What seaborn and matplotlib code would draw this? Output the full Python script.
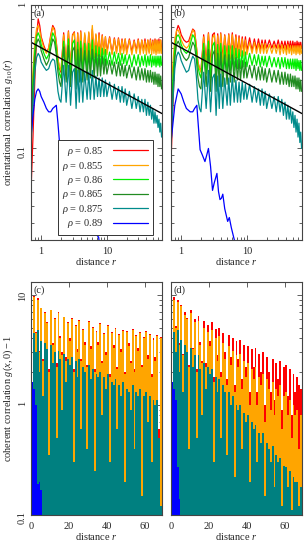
import numpy as np
import pandas as pd
import matplotlib
matplotlib.use("Agg")
import matplotlib.pyplot as plt
import seaborn as sns
from matplotlib.ticker import LogLocator, NullFormatter, FuncFormatter, FixedLocator

# ── 1. Data ────────────────────────────────────────────────────────────
densities = ["0.85", "0.855", "0.86", "0.865", "0.875", "0.89"]
colors = ["#ff0000", "#ffa500", "#00ee00", "#228b22", "#008b8b", "#0000ff"]

r_top = [0.7, 0.75, 0.8, 0.85, 0.9, 0.95, 1.0,
         1.1, 1.2, 1.3, 1.4, 1.5, 1.6, 1.7, 1.8, 1.9, 2.0,
         2.2, 2.4, 2.6, 2.8, 3.0, 3.2, 3.4, 3.6, 3.8, 4.0,
         4.3, 4.6, 5.0, 5.3, 5.6, 6.0, 6.4, 6.8, 7.2, 7.6, 8.0, 8.5, 9.0, 9.5, 10,
         11, 12, 13, 14, 15, 16, 17, 18, 19, 20,
         22, 24, 26, 28, 30, 32, 34, 36, 38, 40, 42, 44,
         46, 48, 50, 52, 54, 56, 58, 60, 62, 64, 66, 68]

# panel (a)
g_a_085 = [0.05, 0.12, 0.30, 0.60, 0.80, 0.72, 0.60,
           0.52, 0.47, 0.50, 0.62, 0.72, 0.68, 0.55, 0.42, 0.36, 0.34,
           0.64, 0.38, 0.66, 0.36, 0.62, 0.65, 0.34, 0.64, 0.38, 0.66,
           0.38, 0.62, 0.40, 0.64, 0.42, 0.68, 0.43, 0.62, 0.45, 0.64, 0.44, 0.62, 0.46, 0.60, 0.47,
           0.60, 0.46, 0.59, 0.47, 0.59, 0.47, 0.58, 0.48, 0.58, 0.47,
           0.58, 0.47, 0.57, 0.48, 0.58, 0.47, 0.57, 0.48, 0.58, 0.48, 0.57, 0.47,
           0.58, 0.48, 0.57, 0.48, 0.58, 0.47, 0.57, 0.48, 0.58, 0.48, 0.57, 0.49]
g_a_0855 = [0.20, 0.35, 0.55, 0.68, 0.72, 0.66, 0.58,
            0.50, 0.46, 0.50, 0.60, 0.70, 0.66, 0.54, 0.42, 0.37, 0.35,
            0.62, 0.39, 0.65, 0.37, 0.61, 0.64, 0.35, 0.63, 0.39, 0.65,
            0.39, 0.64, 0.41, 0.65, 0.43, 0.72, 0.43, 0.63, 0.44, 0.62, 0.44, 0.61, 0.45, 0.60, 0.45,
            0.59, 0.45, 0.58, 0.46, 0.58, 0.45, 0.57, 0.46, 0.58, 0.45,
            0.57, 0.45, 0.56, 0.46, 0.57, 0.45, 0.57, 0.46, 0.56, 0.45, 0.57, 0.46,
            0.57, 0.45, 0.56, 0.46, 0.57, 0.45, 0.57, 0.46, 0.56, 0.46, 0.57, 0.46]
g_a_086 = [0.15, 0.30, 0.48, 0.60, 0.64, 0.60, 0.53,
           0.46, 0.42, 0.45, 0.55, 0.64, 0.60, 0.50, 0.38, 0.33, 0.31,
           0.56, 0.34, 0.58, 0.32, 0.54, 0.57, 0.31, 0.55, 0.34, 0.56,
           0.34, 0.54, 0.35, 0.54, 0.36, 0.57, 0.36, 0.52, 0.37, 0.51, 0.37, 0.50, 0.38, 0.49, 0.38,
           0.47, 0.38, 0.47, 0.39, 0.46, 0.38, 0.46, 0.39, 0.45, 0.38,
           0.45, 0.37, 0.45, 0.38, 0.45, 0.37, 0.44, 0.38, 0.45, 0.37, 0.44, 0.38,
           0.45, 0.37, 0.44, 0.38, 0.44, 0.37, 0.44, 0.38, 0.44, 0.37, 0.44, 0.38]
g_a_0865 = [0.12, 0.25, 0.42, 0.54, 0.58, 0.55, 0.48,
            0.42, 0.38, 0.41, 0.50, 0.58, 0.55, 0.45, 0.34, 0.29, 0.27,
            0.51, 0.29, 0.52, 0.27, 0.48, 0.51, 0.26, 0.49, 0.29, 0.50,
            0.29, 0.48, 0.30, 0.48, 0.31, 0.49, 0.31, 0.46, 0.32, 0.45, 0.32, 0.44, 0.33, 0.42, 0.33,
            0.41, 0.33, 0.40, 0.32, 0.40, 0.32, 0.39, 0.32, 0.38, 0.31,
            0.38, 0.31, 0.37, 0.30, 0.37, 0.30, 0.36, 0.30, 0.36, 0.29, 0.35, 0.29,
            0.35, 0.29, 0.34, 0.28, 0.34, 0.28, 0.33, 0.27, 0.33, 0.27, 0.32, 0.26]
g_a_0875 = [0.10, 0.20, 0.34, 0.43, 0.46, 0.44, 0.40,
            0.37, 0.35, 0.36, 0.40, 0.42, 0.41, 0.33, 0.25, 0.22, 0.21,
            0.38, 0.21, 0.38, 0.20, 0.34, 0.36, 0.19, 0.35, 0.21, 0.36,
            0.21, 0.34, 0.22, 0.34, 0.22, 0.35, 0.22, 0.32, 0.23, 0.31, 0.23, 0.31, 0.23, 0.30, 0.23,
            0.29, 0.22, 0.28, 0.22, 0.27, 0.21, 0.27, 0.21, 0.26, 0.20,
            0.25, 0.19, 0.24, 0.19, 0.23, 0.18, 0.22, 0.18, 0.22, 0.17, 0.21, 0.17,
            0.20, 0.16, 0.19, 0.15, 0.18, 0.15, 0.17, 0.14, 0.16, 0.13, 0.15, 0.12]
r_a_089 = [0.7, 0.75, 0.8, 0.85, 0.9, 0.95, 1.0, 1.1, 1.2, 1.3, 1.4, 1.5, 1.6, 1.7,
           1.8, 1.9, 2.0, 2.2, 2.4, 2.6, 2.8, 3.0, 3.3, 3.6, 4.0, 4.5, 5.0, 5.5,
           6.0, 6.5, 7.0, 7.5, 8.0]
g_a_089 = [0.12, 0.17, 0.22, 0.25, 0.26, 0.25, 0.23, 0.21, 0.19, 0.18, 0.18, 0.19, 0.195, 0.20,
           0.15, 0.11, 0.10, 0.09, 0.095, 0.085, 0.10, 0.065, 0.07, 0.055, 0.05, 0.04, 0.038, 0.032,
           0.03, 0.027, 0.025, 0.024, 0.018]

# panel (b)
g_b_085 = [0.08, 0.20, 0.45, 0.66, 0.72, 0.68, 0.62,
           0.57, 0.55, 0.56, 0.62, 0.68, 0.66, 0.52, 0.40, 0.36, 0.35,
           0.62, 0.40, 0.64, 0.38, 0.62, 0.64, 0.38, 0.63, 0.41, 0.64,
           0.42, 0.62, 0.43, 0.63, 0.44, 0.64, 0.45, 0.62, 0.46, 0.61, 0.46, 0.60, 0.47, 0.60, 0.48,
           0.59, 0.48, 0.58, 0.49, 0.58, 0.49, 0.57, 0.49, 0.57, 0.50,
           0.57, 0.50, 0.56, 0.50, 0.57, 0.49, 0.56, 0.50, 0.56, 0.49, 0.56, 0.50,
           0.56, 0.49, 0.56, 0.50, 0.55, 0.49, 0.56, 0.50, 0.55, 0.49, 0.55, 0.50]
g_b_0855 = [0.25, 0.40, 0.58, 0.66, 0.67, 0.63, 0.57,
            0.52, 0.50, 0.52, 0.60, 0.67, 0.64, 0.52, 0.40, 0.36, 0.34,
            0.60, 0.38, 0.63, 0.36, 0.59, 0.62, 0.35, 0.61, 0.38, 0.63,
            0.39, 0.61, 0.40, 0.62, 0.42, 0.62, 0.42, 0.60, 0.43, 0.59, 0.44, 0.58, 0.44, 0.57, 0.45,
            0.55, 0.46, 0.55, 0.46, 0.54, 0.46, 0.54, 0.46, 0.54, 0.46,
            0.53, 0.46, 0.53, 0.46, 0.53, 0.45, 0.53, 0.46, 0.52, 0.45, 0.53, 0.46,
            0.52, 0.45, 0.52, 0.46, 0.52, 0.45, 0.52, 0.46, 0.52, 0.45, 0.52, 0.46]
g_b_086 = [0.15, 0.32, 0.50, 0.60, 0.62, 0.59, 0.53,
           0.48, 0.46, 0.48, 0.55, 0.62, 0.59, 0.48, 0.37, 0.33, 0.31,
           0.54, 0.33, 0.56, 0.31, 0.52, 0.55, 0.30, 0.53, 0.33, 0.54,
           0.33, 0.52, 0.34, 0.52, 0.35, 0.52, 0.35, 0.50, 0.36, 0.49, 0.36, 0.48, 0.37, 0.47, 0.37,
           0.46, 0.38, 0.45, 0.38, 0.45, 0.37, 0.44, 0.38, 0.44, 0.37,
           0.44, 0.37, 0.43, 0.37, 0.43, 0.36, 0.43, 0.37, 0.43, 0.36, 0.42, 0.36,
           0.42, 0.36, 0.42, 0.36, 0.42, 0.35, 0.42, 0.36, 0.41, 0.35, 0.41, 0.35]
g_b_0865 = [0.12, 0.26, 0.43, 0.53, 0.56, 0.53, 0.47,
            0.43, 0.41, 0.43, 0.49, 0.55, 0.52, 0.42, 0.31, 0.27, 0.26,
            0.48, 0.27, 0.49, 0.25, 0.45, 0.48, 0.25, 0.46, 0.27, 0.47,
            0.27, 0.45, 0.28, 0.45, 0.29, 0.45, 0.29, 0.43, 0.30, 0.42, 0.30, 0.41, 0.31, 0.40, 0.31,
            0.38, 0.31, 0.38, 0.30, 0.37, 0.30, 0.37, 0.30, 0.36, 0.29,
            0.36, 0.29, 0.35, 0.29, 0.35, 0.28, 0.34, 0.28, 0.34, 0.28, 0.33, 0.27,
            0.33, 0.27, 0.32, 0.27, 0.32, 0.26, 0.31, 0.26, 0.31, 0.25, 0.30, 0.25]
g_b_0875 = [0.10, 0.22, 0.36, 0.44, 0.47, 0.45, 0.41,
            0.37, 0.34, 0.35, 0.40, 0.44, 0.42, 0.32, 0.22, 0.19, 0.18,
            0.34, 0.19, 0.35, 0.18, 0.31, 0.33, 0.17, 0.32, 0.19, 0.33,
            0.19, 0.31, 0.20, 0.31, 0.20, 0.32, 0.21, 0.30, 0.21, 0.29, 0.21, 0.29, 0.22, 0.28, 0.22,
            0.28, 0.21, 0.27, 0.21, 0.26, 0.20, 0.26, 0.20, 0.25, 0.19,
            0.24, 0.19, 0.23, 0.18, 0.23, 0.18, 0.22, 0.17, 0.21, 0.16, 0.20, 0.16,
            0.19, 0.15, 0.18, 0.14, 0.17, 0.13, 0.16, 0.12, 0.15, 0.11, 0.13, 0.10]
r_b_089 = [0.7, 0.8, 0.9, 1.0, 1.1, 1.2, 1.37, 1.5, 1.6, 1.73, 1.94, 2.1, 2.3, 2.45, 2.6,
           2.8, 3.0, 3.2, 3.5, 3.7, 3.9, 4.1, 4.3, 4.6, 5.1, 5.4, 5.8, 6.6, 7.0]
g_b_089 = [0.11, 0.20, 0.26, 0.24, 0.21, 0.19, 0.18, 0.18, 0.19, 0.20, 0.098, 0.09, 0.081, 0.09, 0.10,
           0.075, 0.051, 0.058, 0.067, 0.05, 0.044, 0.045, 0.048, 0.038, 0.031, 0.033, 0.028, 0.022, 0.019]

# power-law guide line (endpoints)
r_guide = [0.7, 69]
g_guide = [0.55, 0.175]

# panel (c): g(x,0)-1 at x = 0..68
red_c = [0.3, 9.8, 4.6, 9.3, 3.1, 7.6, 2.6, 6.9, 5.6, 2.1,
         7.3, 3.6, 6.1, 2.4, 6.9, 4.2, 3.0, 6.3, 2.7, 5.6,
         4.0, 6.1, 2.1, 5.3, 3.2, 5.9, 2.6, 4.9, 3.7, 2.3,
         5.7, 3.4, 5.1, 2.1, 4.7, 3.7, 5.5, 2.5, 4.5, 3.0,
         5.3, 1.9, 4.6, 3.5, 5.0, 2.2, 4.4, 3.2, 4.8, 2.0,
         4.7, 3.6, 2.5, 4.9, 2.1, 4.3, 3.3, 4.6, 2.3, 4.1,
         4.7, 2.8, 4.4, 1.9, 4.0, 2.7, 4.3, 0.6, 4.1]
orange_c = [0.3, 9.5, 4.5, 9.0, 3.0, 7.5, 2.5, 6.8, 5.5, 2.0,
            7.2, 3.5, 6.0, 2.2, 6.8, 4.0, 2.8, 6.2, 2.5, 5.5,
            3.8, 6.0, 2.0, 5.2, 3.0, 5.8, 2.5, 4.8, 3.5, 2.2,
            5.6, 3.2, 5.0, 2.0, 4.6, 3.5, 5.4, 2.4, 4.4, 2.8,
            5.2, 1.8, 4.5, 3.3, 4.9, 2.1, 4.3, 3.0, 4.7, 1.9,
            4.6, 3.4, 2.4, 4.8, 2.0, 4.2, 3.1, 4.5, 2.2, 4.0,
            4.6, 2.6, 4.3, 1.8, 3.9, 2.5, 4.2, 0.5, 4.0]
teal_c = [0.25, 4.5, 3.0, 4.8, 2.0, 3.8, 1.2, 3.6, 3.2, 0.35,
          3.5, 2.4, 3.0, 0.5, 3.1, 2.6, 0.9, 2.9, 1.6, 2.6,
          2.3, 2.7, 0.3, 2.5, 1.8, 2.6, 0.6, 2.2, 2.0, 0.4,
          2.3, 1.7, 2.1, 0.25, 1.9, 1.8, 2.0, 0.8, 1.8, 1.4,
          1.9, 0.3, 1.6, 1.5, 1.7, 0.6, 1.5, 1.2, 1.6, 0.2,
          1.4, 1.3, 0.9, 1.5, 0.4, 1.3, 1.2, 1.4, 0.15, 1.2,
          1.3, 0.7, 1.2, 0.3, 1.1, 1.0, 1.1, 0.5, 0.12]
blue_c = [1.6, 1.4, 1.0, 0.19, 0.2, 0.17]

# panel (d)
red_d = [0.3, 9.6, 5.2, 9.0, 3.6, 8.0, 2.9, 6.9, 6.1, 2.3,
         7.2, 3.3, 6.0, 2.1, 6.4, 3.7, 2.5, 5.8, 2.4, 5.3,
         3.8, 5.6, 1.8, 4.9, 2.8, 5.0, 2.0, 4.5, 3.0, 1.7,
         4.3, 2.7, 4.0, 1.5, 3.8, 2.6, 3.9, 1.7, 3.5, 2.2,
         3.4, 1.3, 3.2, 2.2, 3.3, 1.3, 2.9, 2.0, 3.0, 1.0,
         2.7, 2.0, 1.3, 2.6, 1.1, 2.4, 1.7, 2.5, 0.9, 2.2,
         2.3, 1.2, 2.1, 0.8, 1.9, 1.3, 1.8, 1.5, 1.4]
orange_d = [0.3, 9.0, 5.0, 8.5, 3.5, 7.8, 2.8, 6.5, 6.0, 2.2,
            6.8, 3.2, 5.6, 2.0, 5.8, 3.5, 2.4, 5.0, 2.2, 4.6,
            3.4, 4.8, 1.6, 4.0, 2.5, 4.2, 1.8, 3.6, 2.6, 1.5,
            3.4, 2.3, 3.1, 1.3, 2.8, 2.2, 2.9, 1.4, 2.5, 1.8,
            2.4, 1.0, 2.1, 1.7, 2.2, 1.0, 1.8, 1.5, 1.9, 0.7,
            1.7, 1.4, 0.9, 1.6, 0.8, 1.4, 1.2, 1.5, 0.6, 1.2,
            1.3, 0.8, 1.1, 0.5, 1.0, 0.8, 0.9, 0.4, 0.8]
teal_d = [0.25, 4.6, 3.0, 4.8, 2.0, 3.9, 1.3, 3.5, 3.0, 0.4,
          3.3, 2.2, 2.8, 0.5, 2.8, 2.1, 0.8, 2.4, 1.4, 2.2,
          1.9, 2.1, 0.3, 1.8, 1.3, 1.7, 0.5, 1.5, 1.3, 0.35,
          1.3, 1.0, 1.2, 0.22, 1.0, 0.9, 1.0, 0.4, 0.85, 0.7,
          0.8, 0.2, 0.7, 0.6, 0.65, 0.3, 0.55, 0.45, 0.55, 0.15,
          0.45, 0.4, 0.3, 0.42, 0.18, 0.35, 0.3, 0.33, 0.12, 0.28,
          0.27, 0.18, 0.25, 0.11, 0.22, 0.2, 0.2, 0.12, 0.18]
blue_d = [1.6, 1.4, 1.1, 0.27, 0.14]

# ── 2. Style ───────────────────────────────────────────────────────────
sns.set_style("ticks")
plt.rcParams["font.family"] = ["Liberation Serif", "DejaVu Serif"]
plt.rcParams["mathtext.fontset"] = "custom"
plt.rcParams["mathtext.rm"] = "Liberation Serif"
plt.rcParams["mathtext.it"] = "Liberation Serif:italic"
plt.rcParams["font.size"] = 7.5

W, H = 304, 542
fig = plt.figure(figsize=(W / 100, H / 100), dpi=100)


def add_ax(left, top, right, bottom):
    return fig.add_axes([left / W, 1 - bottom / H, (right - left) / W, (bottom - top) / H])


ax_a = add_ax(31, 5, 162, 240)
ax_b = add_ax(171, 5, 302, 240)
ax_c = add_ax(31, 282, 162, 515)
ax_d = add_ax(171, 282, 302, 515)

fmt = FuncFormatter(lambda v, p: f"{v:g}")


def style(ax, logx, show_y):
    ax.set_yscale("log")
    if logx:
        ax.set_xscale("log")
        ax.xaxis.set_major_locator(LogLocator(base=10))
        ax.xaxis.set_minor_locator(LogLocator(base=10, subs=np.arange(2, 10)))
        ax.xaxis.set_minor_formatter(NullFormatter())
    ax.xaxis.set_major_formatter(fmt)
    ax.yaxis.set_major_locator(LogLocator(base=10))
    ax.yaxis.set_minor_locator(LogLocator(base=10, subs=np.arange(2, 10)))
    ax.yaxis.set_minor_formatter(NullFormatter())
    ax.yaxis.set_major_formatter(fmt)
    ax.tick_params(which="both", direction="in", top=True, right=True,
                   color="#444444", width=0.6, labelsize=7.5)
    ax.tick_params(axis="x", pad=5)
    ax.tick_params(axis="y", pad=3)
    ax.tick_params(which="major", length=3.5)
    ax.tick_params(which="minor", length=2)
    ax.tick_params(axis="y", labelrotation=90, labelleft=show_y)
    for s in ax.spines.values():
        s.set_color("#444444")
        s.set_linewidth(0.8)
    ax.set_xlabel("distance $r$", labelpad=0)


# ── 3. Top panels: orientational correlation ───────────────────────────
top_sets = [
    (ax_a, [g_a_085, g_a_0855, g_a_086, g_a_0865, g_a_0875], r_a_089, g_a_089, "(a)"),
    (ax_b, [g_b_085, g_b_0855, g_b_086, g_b_0865, g_b_0875], r_b_089, g_b_089, "(b)"),
]
for ax, curves, rb, gb, tag in top_sets:
    for g, c, d in zip(curves, colors[:5], densities[:5]):
        sns.lineplot(x=r_top, y=g, color=c, linewidth=0.9, ax=ax,
                     label=rf"$\rho$ = {d}")
    sns.lineplot(x=rb, y=gb, color=colors[5], linewidth=0.9, ax=ax,
                 label=rf"$\rho$ = {densities[5]}")
    sns.lineplot(x=r_guide, y=g_guide, color="black", linewidth=1.0, ax=ax)
    style(ax, True, ax is ax_a)
    ax.set_xlim(0.7, 69)
    ax.set_ylim(0.023, 1)
    ax.text(0.02, 0.985, tag, transform=ax.transAxes, ha="left", va="top", fontsize=7.5)
    if ax is ax_a:
        ax.set_ylabel("orientational correlation $g_{10}(r)$", labelpad=2)
        leg = ax.legend(loc="lower right", bbox_to_anchor=(0.931, 0.021),
                        borderaxespad=0, markerfirst=False, frameon=True,
                        fancybox=False, edgecolor="#333333", framealpha=1,
                        handlelength=3.4, labelspacing=0.14, borderpad=0.45,
                        handletextpad=0.9, fontsize=7.5)
        leg.get_frame().set_linewidth(0.7)
        leg._legend_box._children[-1]._children[0].align = "right"
    else:
        ax.get_legend().remove()
        ax.set_ylabel("")

# ── 4. Bottom panels: coherent correlation ─────────────────────────────
bottom_sets = [
    (ax_c, red_c, orange_c, teal_c, blue_c, "(c)"),
    (ax_d, red_d, orange_d, teal_d, blue_d, "(d)"),
]
for ax, red, orange, teal, blue, tag in bottom_sets:
    for vals, c in [(red, "#ff0000"), (orange, "#ffa500"), (teal, "#008080"), (blue, "#0000ff")]:
        df = pd.DataFrame({"x": np.arange(len(vals)) + 0.5, "v": vals})
        sns.histplot(data=df, x="x", weights="v", bins=len(vals),
                     binrange=(0, len(vals)), element="bars", fill=True,
                     color=c, alpha=1, linewidth=0, edgecolor="none", ax=ax)
    style(ax, False, ax is ax_c)
    ax.xaxis.set_major_locator(FixedLocator([0, 20, 40, 60]))
    ax.set_xlim(0, 69)
    ax.set_ylim(0.1, 13)
    ax.text(0.02, 0.985, tag, transform=ax.transAxes, ha="left", va="top", fontsize=7.5)
    if ax is ax_c:
        ax.set_ylabel("coherent correlation $g(x,0) - 1$", labelpad=2)
    else:
        ax.set_ylabel("")

fig.savefig("out.png", dpi=100)
